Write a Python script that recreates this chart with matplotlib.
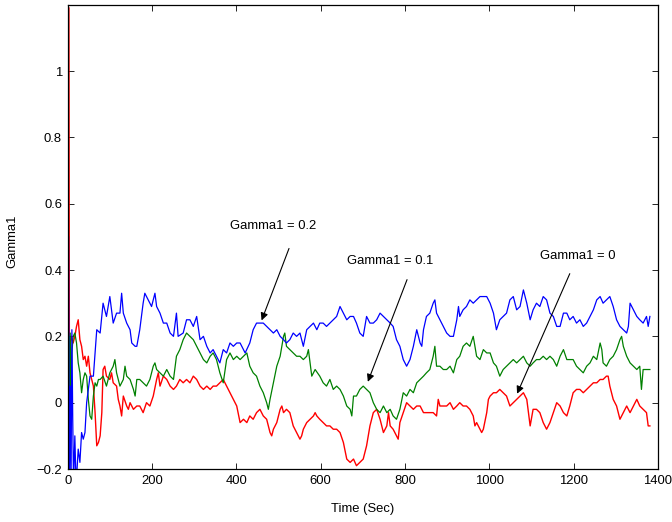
import matplotlib
matplotlib.use("Agg")
import matplotlib.pyplot as plt

plt.rcParams['font.family'] = ['Liberation Sans', 'DejaVu Sans']
plt.rcParams['path.simplify'] = False

# Gamma1 estimates over time for three initial settings
blue_t = [2, 3, 4, 6, 8, 10, 12, 14, 17, 20, 25, 29, 33, 37, 41, 45, 53, 61, 69, 77,
          84, 92, 100, 108, 116, 124, 128, 132, 140, 148, 152, 160, 164, 171, 179, 183,
          191, 199, 207, 211, 219, 227, 235, 243, 251, 258, 262, 274, 282, 290, 298, 306,
          314, 322, 330, 338, 345, 353, 361, 369, 377, 385, 393, 401, 409, 421, 432, 440,
          448, 456, 464, 472, 480, 488, 496, 504, 512, 519, 527, 535, 543, 551, 559, 567,
          575, 583, 591, 598, 606, 614, 622, 630, 638, 646, 654, 662, 670, 678, 685, 693,
          701, 709, 717, 725, 733, 741, 749, 757, 765, 772, 780, 788, 796, 804, 812, 820,
          828, 836, 840, 844, 851, 859, 867, 871, 875, 883, 891, 899, 907, 915, 923, 927,
          930, 938, 946, 954, 962, 970, 978, 986, 994, 1002, 1010, 1017, 1025, 1033, 1041,
          1049, 1057, 1065, 1073, 1081, 1089, 1097, 1104, 1112, 1120, 1128, 1136, 1144,
          1152, 1160, 1168, 1176, 1184, 1191, 1199, 1207, 1215, 1223, 1231, 1239, 1247,
          1255, 1263, 1270, 1278, 1286, 1294, 1302, 1310, 1318, 1326, 1330, 1334, 1342,
          1350, 1357, 1365, 1373, 1377, 1381]
blue_y = [0.50, 0.10, -0.25, 0.05, -0.25, 0.22, -0.05, -0.25, -0.10, -0.25, -0.14, -0.18,
          -0.09, -0.11, -0.09, 0.00, 0.08, 0.08, 0.22, 0.21, 0.30, 0.26, 0.32, 0.24, 0.27,
          0.27, 0.33, 0.27, 0.24, 0.22, 0.18, 0.17, 0.17, 0.22, 0.30, 0.33, 0.31, 0.29,
          0.33, 0.29, 0.27, 0.24, 0.24, 0.21, 0.20, 0.27, 0.20, 0.21, 0.25, 0.25, 0.23,
          0.26, 0.19, 0.20, 0.17, 0.15, 0.16, 0.14, 0.12, 0.16, 0.15, 0.18, 0.17, 0.18,
          0.18, 0.15, 0.18, 0.22, 0.24, 0.24, 0.24, 0.23, 0.22, 0.21, 0.22, 0.20, 0.19,
          0.18, 0.19, 0.21, 0.20, 0.21, 0.17, 0.22, 0.23, 0.24, 0.22, 0.24, 0.24, 0.23,
          0.24, 0.25, 0.26, 0.29, 0.27, 0.25, 0.26, 0.26, 0.24, 0.21, 0.20, 0.26, 0.24,
          0.24, 0.25, 0.27, 0.26, 0.25, 0.24, 0.23, 0.19, 0.17, 0.13, 0.11, 0.13, 0.17,
          0.22, 0.18, 0.17, 0.22, 0.26, 0.27, 0.30, 0.31, 0.27, 0.25, 0.23, 0.21, 0.20,
          0.20, 0.25, 0.29, 0.26, 0.28, 0.29, 0.31, 0.30, 0.31, 0.32, 0.32, 0.32, 0.30,
          0.27, 0.22, 0.25, 0.26, 0.27, 0.31, 0.32, 0.28, 0.29, 0.34, 0.30, 0.25, 0.28,
          0.30, 0.29, 0.32, 0.31, 0.27, 0.26, 0.23, 0.23, 0.27, 0.27, 0.25, 0.26, 0.24,
          0.25, 0.23, 0.24, 0.26, 0.28, 0.31, 0.32, 0.30, 0.31, 0.32, 0.29, 0.25, 0.23,
          0.22, 0.21, 0.23, 0.30, 0.28, 0.26, 0.25, 0.24, 0.26, 0.23, 0.26]

green_t = [2, 3, 4, 6, 8, 10, 13, 17, 21, 25, 29, 33, 37, 41, 45, 49, 53, 57, 61, 65, 69,
           73, 77, 84, 92, 100, 108, 112, 116, 124, 132, 136, 140, 148, 156, 160, 164, 171,
           179, 187, 195, 203, 207, 211, 219, 227, 235, 243, 251, 258, 266, 274, 282, 290,
           298, 306, 314, 322, 330, 338, 345, 353, 361, 369, 377, 385, 393, 401, 409, 417,
           425, 432, 440, 448, 456, 464, 472, 476, 480, 488, 496, 504, 508, 512, 515, 519,
           527, 535, 543, 551, 559, 567, 571, 575, 579, 587, 598, 606, 614, 622, 630, 638,
           646, 654, 662, 670, 674, 678, 685, 693, 701, 709, 717, 725, 733, 741, 749, 757,
           765, 772, 780, 788, 796, 804, 812, 820, 828, 836, 844, 851, 859, 867, 871, 875,
           883, 891, 899, 907, 915, 923, 930, 938, 946, 954, 962, 970, 978, 986, 994, 1002,
           1010, 1017, 1025, 1033, 1041, 1049, 1057, 1065, 1073, 1081, 1089, 1097, 1104,
           1112, 1120, 1128, 1136, 1144, 1152, 1160, 1168, 1176, 1184, 1191, 1199, 1207,
           1215, 1223, 1231, 1239, 1247, 1255, 1263, 1267, 1270, 1278, 1286, 1294, 1302,
           1310, 1314, 1318, 1326, 1334, 1342, 1350, 1357, 1361, 1365, 1373, 1381]
green_y = [0.00, 0.20, -0.10, 0.21, 0.00, 0.15, 0.20, 0.21, 0.18, 0.12, 0.09, 0.03, 0.07,
           0.09, 0.08, 0.01, -0.04, -0.05, 0.02, 0.06, 0.05, 0.07, 0.07, 0.08, 0.05, 0.09,
           0.11, 0.13, 0.09, 0.05, 0.07, 0.11, 0.08, 0.07, 0.04, 0.02, 0.07, 0.07, 0.06,
           0.05, 0.07, 0.11, 0.12, 0.10, 0.09, 0.08, 0.10, 0.08, 0.07, 0.14, 0.16, 0.19,
           0.21, 0.20, 0.19, 0.17, 0.15, 0.13, 0.12, 0.14, 0.15, 0.13, 0.09, 0.06, 0.13,
           0.15, 0.13, 0.14, 0.13, 0.14, 0.15, 0.11, 0.09, 0.08, 0.05, 0.03, 0.00, -0.02,
           0.01, 0.06, 0.11, 0.14, 0.17, 0.20, 0.21, 0.17, 0.16, 0.15, 0.14, 0.14, 0.13,
           0.14, 0.16, 0.12, 0.08, 0.10, 0.08, 0.06, 0.05, 0.07, 0.04, 0.05, 0.04, 0.02,
           -0.01, -0.02, -0.04, 0.02, 0.02, 0.04, 0.05, 0.04, 0.03, 0.00, -0.02, -0.03,
           -0.01, -0.03, -0.02, -0.04, -0.05, -0.02, 0.03, 0.02, 0.04, 0.03, 0.06, 0.07,
           0.08, 0.09, 0.10, 0.14, 0.17, 0.11, 0.11, 0.10, 0.10, 0.11, 0.09, 0.13, 0.14,
           0.17, 0.18, 0.17, 0.20, 0.14, 0.13, 0.16, 0.15, 0.15, 0.12, 0.11, 0.08, 0.10,
           0.11, 0.12, 0.13, 0.12, 0.13, 0.14, 0.12, 0.11, 0.12, 0.13, 0.13, 0.14, 0.13,
           0.14, 0.13, 0.11, 0.14, 0.16, 0.13, 0.13, 0.13, 0.11, 0.10, 0.09, 0.11, 0.12,
           0.14, 0.13, 0.18, 0.16, 0.12, 0.11, 0.13, 0.14, 0.16, 0.19, 0.20, 0.17, 0.14,
           0.12, 0.11, 0.10, 0.11, 0.04, 0.10, 0.10, 0.10]

red_t = [3, 4, 5, 9, 13, 17, 21, 25, 29, 33, 37, 41, 45, 49, 53, 57, 61, 65, 69, 73, 77,
         81, 84, 88, 92, 100, 104, 108, 116, 120, 124, 128, 132, 140, 144, 148, 156, 164,
         171, 179, 187, 195, 203, 211, 215, 219, 227, 235, 243, 251, 258, 266, 274, 282,
         290, 298, 306, 314, 322, 330, 338, 345, 353, 361, 369, 377, 385, 393, 401, 409,
         417, 425, 432, 440, 448, 456, 464, 472, 480, 484, 488, 496, 504, 508, 512, 519,
         527, 531, 535, 543, 551, 555, 559, 567, 575, 583, 587, 591, 598, 606, 614, 622,
         630, 638, 646, 654, 662, 670, 678, 685, 693, 701, 709, 717, 725, 733, 741, 749,
         757, 761, 765, 772, 780, 784, 788, 796, 804, 812, 820, 828, 836, 844, 851, 859,
         867, 875, 879, 883, 891, 899, 907, 915, 923, 930, 938, 946, 954, 962, 966, 970,
         978, 982, 986, 994, 998, 1002, 1010, 1017, 1025, 1033, 1041, 1049, 1057, 1065,
         1073, 1081, 1089, 1093, 1097, 1104, 1112, 1120, 1128, 1136, 1144, 1152, 1160,
         1168, 1176, 1184, 1191, 1199, 1207, 1215, 1223, 1231, 1239, 1247, 1255, 1263,
         1270, 1278, 1282, 1286, 1294, 1302, 1310, 1318, 1326, 1334, 1342, 1350, 1357,
         1365, 1373, 1377, 1381]
red_y = [1.19, 0.18, 0.17, 0.20, 0.18, 0.20, 0.23, 0.25, 0.19, 0.17, 0.13, 0.14, 0.11,
         0.14, 0.09, 0.07, 0.05, -0.03, -0.13, -0.12, -0.10, -0.03, 0.10, 0.11, 0.08,
         0.07, 0.09, 0.06, 0.05, 0.01, -0.01, -0.04, 0.02, -0.01, -0.02, 0.00, -0.02,
         -0.01, -0.01, -0.03, 0.00, -0.01, 0.02, 0.07, 0.09, 0.05, 0.08, 0.07, 0.05, 0.04,
         0.05, 0.07, 0.06, 0.07, 0.06, 0.08, 0.07, 0.05, 0.04, 0.05, 0.04, 0.05, 0.05,
         0.06, 0.07, 0.05, 0.03, 0.01, -0.01, -0.06, -0.05, -0.06, -0.04, -0.05, -0.03,
         -0.02, -0.04, -0.05, -0.09, -0.10, -0.08, -0.06, -0.02, -0.01, -0.03, -0.02,
         -0.03, -0.05, -0.07, -0.09, -0.11, -0.10, -0.08, -0.06, -0.05, -0.04, -0.03,
         -0.04, -0.05, -0.06, -0.07, -0.07, -0.08, -0.08, -0.09, -0.12, -0.17, -0.18,
         -0.17, -0.19, -0.18, -0.17, -0.13, -0.07, -0.03, -0.02, -0.05, -0.09, -0.07,
         -0.03, -0.07, -0.08, -0.10, -0.11, -0.06, -0.03, 0.00, -0.01, -0.02, -0.01,
         -0.01, -0.03, -0.03, -0.03, -0.03, -0.04, 0.01, -0.01, -0.01, -0.01, 0.00, -0.02,
         -0.01, 0.00, -0.01, -0.01, -0.02, -0.04, -0.07, -0.06, -0.08, -0.09, -0.08,
         -0.03, 0.01, 0.02, 0.03, 0.03, 0.04, 0.03, 0.02, -0.01, 0.00, 0.01, 0.02, 0.03,
         0.01, -0.03, -0.07, -0.02, -0.02, -0.03, -0.06, -0.08, -0.06, -0.03, 0.00, -0.01,
         -0.03, -0.04, -0.01, 0.03, 0.04, 0.04, 0.03, 0.04, 0.05, 0.06, 0.06, 0.07, 0.07,
         0.08, 0.08, 0.05, 0.01, -0.01, -0.05, -0.03, -0.01, -0.03, -0.01, 0.01, -0.01,
         -0.02, -0.03, -0.07, -0.07]

x_ticks = [0, 200, 400, 600, 800, 1000, 1200, 1400]
y_ticks = [-0.2, 0, 0.2, 0.4, 0.6, 0.8, 1]
y_tick_labels = ['\u22120.2', '0', '0.2', '0.4', '0.6', '0.8', '1']

# (label, text position, arrow tail, arrow head)
annotations = [
    ('Gamma1 = 0.2', (487, 0.534), (525, 0.465), (460, 0.248)),
    ('Gamma1 = 0.1', (764, 0.428), (805, 0.371), (712, 0.063)),
    ('Gamma1 = 0', (1210, 0.443), (1191, 0.389), (1066, 0.027)),
]

fig = plt.figure(figsize=(6.72, 5.22), dpi=100)
ax = fig.add_axes([0.1007, 0.1015, 0.8783, 0.8895])

ax.plot(red_t, red_y, color=(1, 0, 0), lw=1.0)
ax.plot(green_t, green_y, color=(0, 0.5, 0), lw=0.9)
ax.plot(blue_t, blue_y, color=(0, 0, 1), lw=0.9)

ax.set_xlim(0, 1400)
ax.set_ylim(-0.2, 1.2)
ax.set_xticks(x_ticks)
ax.set_yticks(y_ticks)
ax.set_yticklabels(y_tick_labels)
ax.tick_params(direction='in', length=4, width=0.6, top=True, right=True,
               labelsize=9.4, pad=4, colors='black')
for sp in ax.spines.values():
    sp.set_linewidth(0.9)

ax.set_xlabel('Time (Sec)', fontsize=9.4, labelpad=12)
ax.set_ylabel('Gamma1', fontsize=9.4)
ax.yaxis.set_label_coords(-0.084, 0.49)

for label, txt, tail, head in annotations:
    ax.text(txt[0], txt[1], label, ha='center', va='center', fontsize=9.4)
    ax.annotate('', xy=head, xytext=tail,
                arrowprops=dict(arrowstyle='-|>', color='black', lw=0.8,
                                mutation_scale=11, shrinkA=0, shrinkB=0))

fig.savefig('out.png', dpi=100)
